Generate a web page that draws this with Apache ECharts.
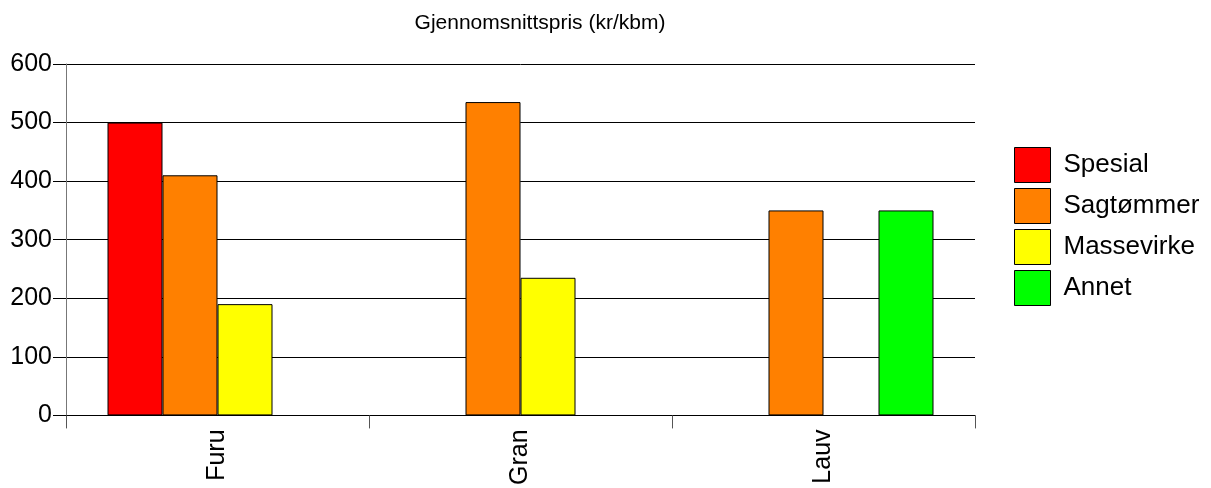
<!DOCTYPE html>
<html>
<head>
<meta charset="utf-8">
<script src="https://cdn.jsdelivr.net/npm/echarts@6/dist/echarts.min.js"></script>
<style>
  html, body { margin: 0; padding: 0; background: #fff; }
  #chart { width: 1211px; height: 488px; }
</style>
</head>
<body>
<div id="chart"></div>
<script>
const categories = ['Furu', 'Gran', 'Lauv']
const seriesNames = ['Spesial', 'Sagtømmer', 'Massevirke', 'Annet']
const seriesColors = ['#ff0000', '#ff8000', '#ffff00', '#00ff00']
// null = ingen stolpe for den kategorien
const spesial = [500, null, null]
const sagtommer = [410, 535, 350]
const massevirke = [190, 235, null]
const annet = [null, null, 350]
const yTicks = [0, 100, 200, 300, 400, 500, 600]

const font = "'Liberation Sans', Arial, sans-serif"
const values = [spesial, sagtommer, massevirke, annet]

const chart = echarts.init(document.getElementById('chart'))

chart.setOption({
  animation: false,
  title: {
    text: 'Gjennomsnittspris (kr/kbm)',
    left: 535,
    top: 8,
    textAlign: 'center',
    textStyle: { fontFamily: font, fontSize: 21, fontWeight: 'normal', color: '#000' },
  },
  legend: {
    orient: 'vertical',
    left: 1009,
    top: 142,
    itemWidth: 36,
    itemHeight: 35,
    itemGap: 5,
    icon: 'rect',
    data: seriesNames,
    itemStyle: { borderColor: '#000', borderWidth: 1 },
    textStyle: { fontFamily: font, fontSize: 26, color: '#000', padding: [0, 0, 0, 8] },
  },
  grid: { left: 66, right: 236, top: 64, bottom: 70 },
  xAxis: {
    type: 'category',
    data: categories,
    axisLine: { lineStyle: { color: '#000', width: 1 } },
    axisTick: { show: true, length: 13, lineStyle: { color: '#555' } },
    axisLabel: { rotate: 90, margin: 14, fontFamily: font, fontSize: 25, color: '#000' },
  },
  yAxis: {
    type: 'value',
    min: yTicks[0],
    max: yTicks[yTicks.length - 1],
    interval: 100,
    axisLine: { show: true, lineStyle: { color: '#777', width: 1 } },
    axisTick: { show: true, length: 13, lineStyle: { color: '#000' } },
    axisLabel: { margin: 14, padding: [5, 0, 0, 0], fontFamily: font, fontSize: 25, color: '#000' },
    splitLine: { show: true, lineStyle: { color: '#000', width: 1 } },
  },
  series: seriesNames.map((name, i) => ({
    name,
    type: 'bar',
    data: values[i],
    barWidth: 55,
    barGap: '0%',
    itemStyle: { color: seriesColors[i], borderColor: '#000', borderWidth: 1 },
  })),
})
</script>
</body>
</html>
